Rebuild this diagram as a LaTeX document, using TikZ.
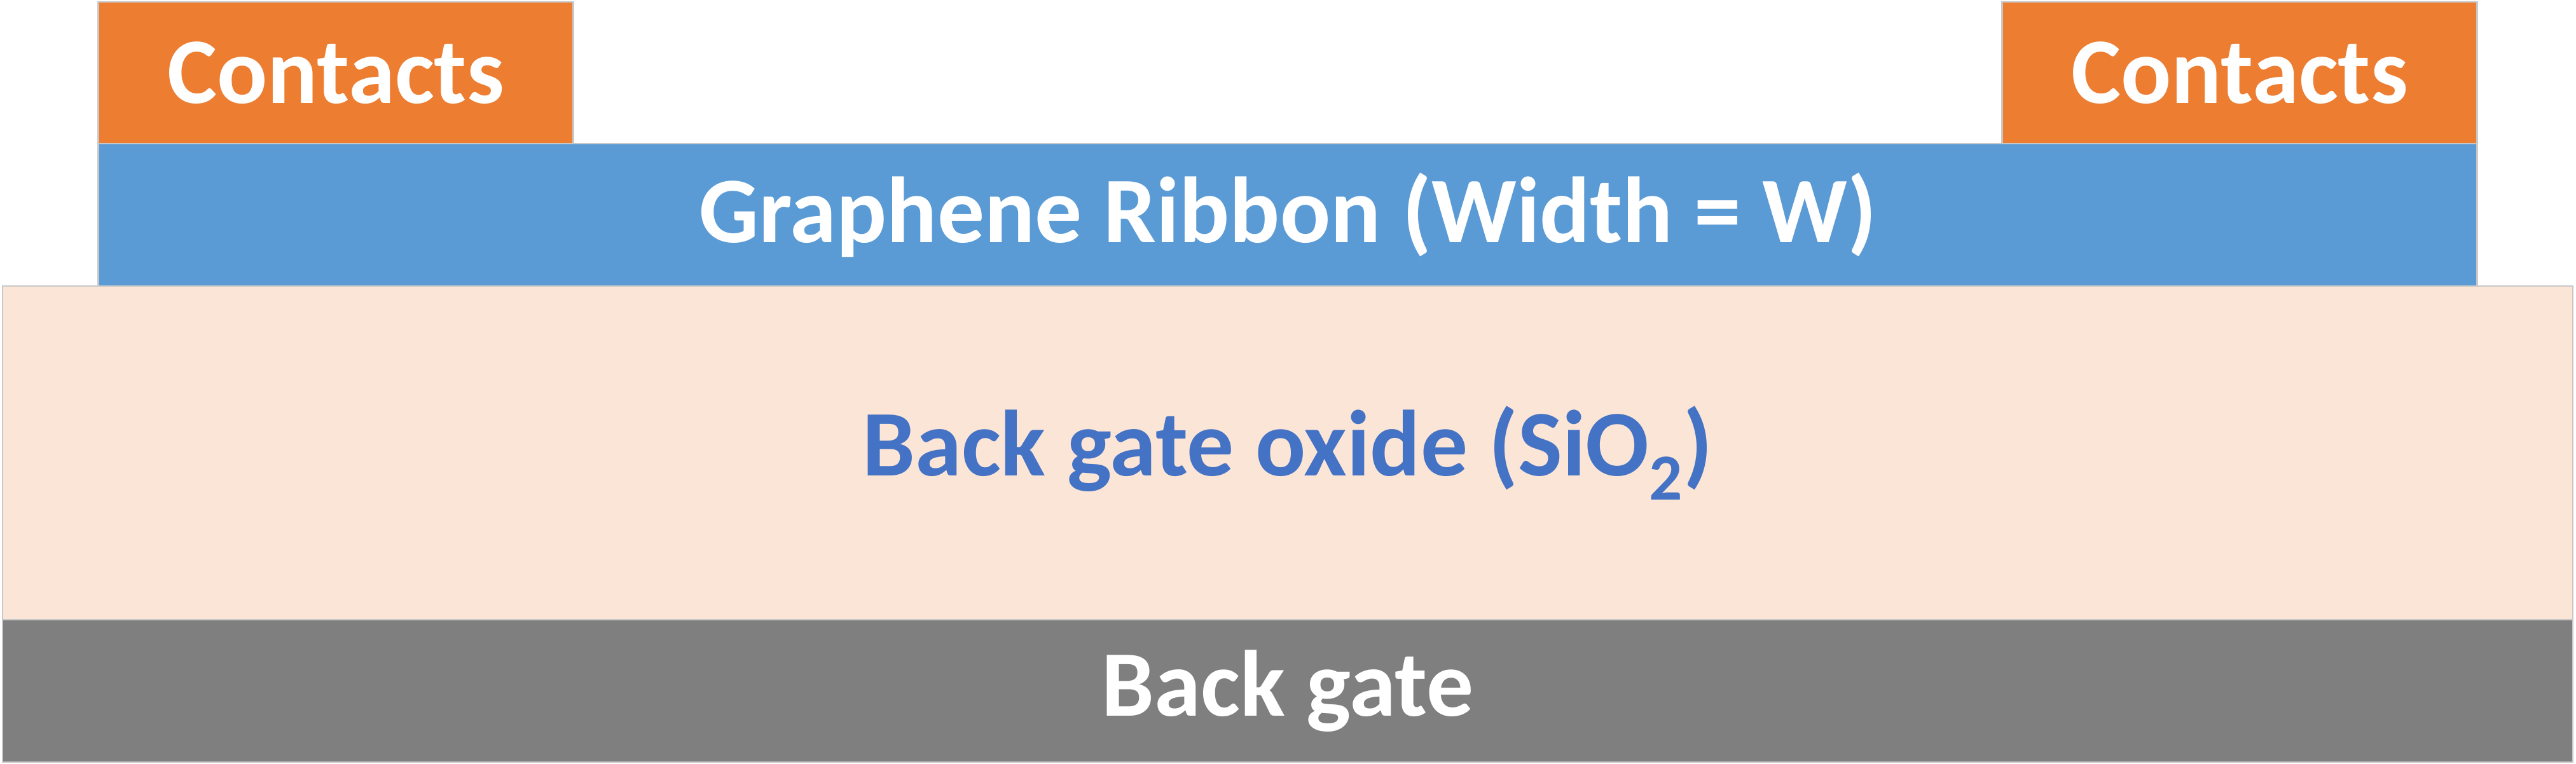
\documentclass[tikz,border=0pt]{standalone}
\usepackage{fontspec}
\setmainfont{Carlito}
\usetikzlibrary{positioning}
\definecolor{Edge}{HTML}{C8C8C8}
\definecolor{Orange}{HTML}{ED7D31}
\definecolor{Ribbon}{HTML}{5B9BD5}
\definecolor{Oxide}{HTML}{FBE5D6}
\definecolor{Gate}{HTML}{7F7F7F}
\definecolor{OxideText}{HTML}{4472C4}

\begin{document}
\begin{tikzpicture}[
      node distance=0pt,
      layer/.style={draw=Edge,line width=0.8pt,inner sep=0pt,outer sep=0pt,
        align=center,text=white,font=\fontsize{42}{50}\selectfont\bfseries},
      contact/.style={layer,fill=Orange,minimum width=74.7mm,minimum height=22.3mm}
    ]
      \useasboundingbox (0,0) rectangle (40.51,12.01);
      \node[layer,fill=Gate,minimum width=404.2mm,minimum height=22.4mm] (gate) at (20.25,1.14) {Back gate};
      \node[layer,fill=Oxide,text=OxideText,minimum width=404.2mm,minimum height=52.5mm,above=of gate] (oxide) {Back gate oxide (SiO\textsubscript{2})};
      \node[layer,fill=Ribbon,minimum width=374.1mm,minimum height=22.4mm,above=of oxide] (ribbon) {Graphene Ribbon (Width = W)};
      \node[contact,anchor=south west] (leftcontact) at (ribbon.north west) {Contacts};
      \node[contact,anchor=south east] (rightcontact) at (ribbon.north east) {Contacts};
    \end{tikzpicture}
\end{document}
